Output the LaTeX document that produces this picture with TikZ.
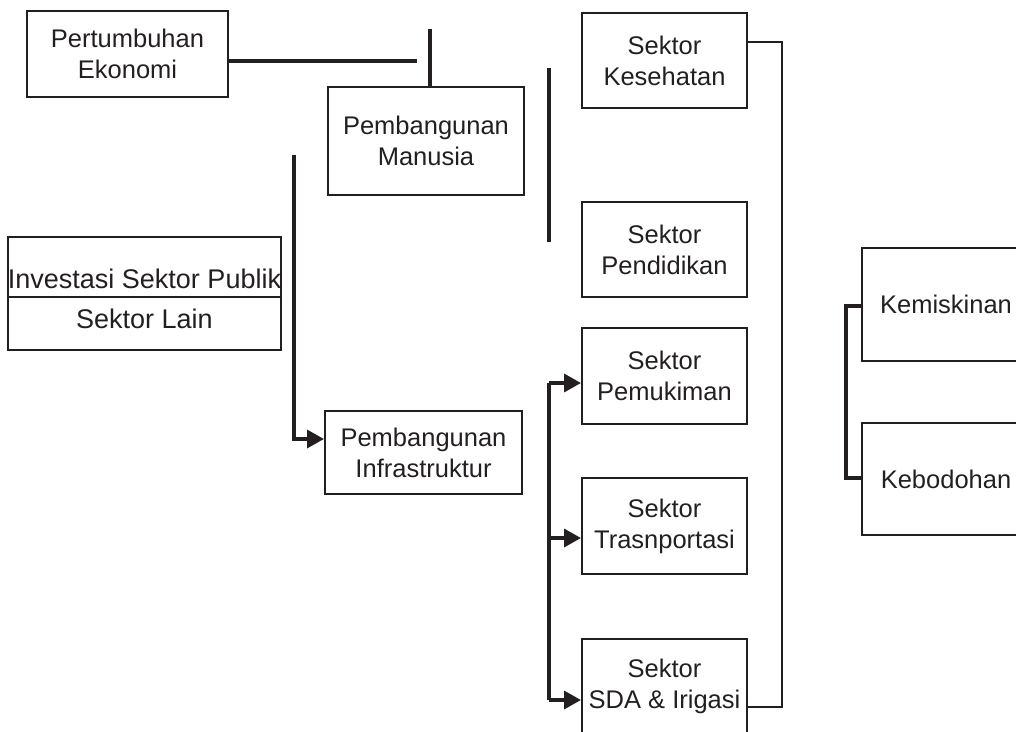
\documentclass[tikz,border=0pt]{standalone}
\usepackage{fontspec}
\setmainfont{Liberation Sans}
\usetikzlibrary{arrows.meta}
\definecolor{ink}{HTML}{231F20}
\begin{document}
\begin{tikzpicture}[x=1pt,y=-1pt,
  box/.style={draw=ink,line width=2pt,text=ink,align=center,inner sep=0pt,
    font=\fontsize{25.5}{31}\selectfont},
  txt/.style={text=ink,align=center,inner sep=0pt,font=\fontsize{27}{40}\selectfont},
  sbox/.style={box,minimum width=165pt,minimum height=95pt},
  conn/.style={draw=ink,line width=3.4pt},
  fat/.style={draw=ink,line width=4pt},
  link/.style={draw=ink,line width=2pt},
  arr/.style={conn,-{Triangle[length=17pt,width=18pt]}}]
\useasboundingbox (0,0) rectangle (1016,731);
\clip (0,0) rectangle (1016,731);

% boxes
\node[box,minimum width=201pt,minimum height=86pt] (pe) at (127.5,54) {Pertumbuhan\\Ekonomi};
\node[box,minimum width=196pt,minimum height=108pt] (pm) at (426,141) {Pembangunan\\Manusia};
\node[box,minimum width=197pt,minimum height=83pt] (pi) at (423.5,452.5) {Pembangunan\\Infrastruktur};
\node[box,minimum width=273pt,minimum height=113pt] (inv) at (144.5,293.5) {};
\node[txt] (invt) at (144.5,298.5) {Investasi Sektor Publik\\Sektor Lain};
\draw[link] (inv.west |- 0,297) -- (inv.east |- 0,297);

\node[sbox] (kes) at (664.5,60.5) {Sektor\\Kesehatan};
\node[sbox] (pen) at (664.5,249.5) {Sektor\\Pendidikan};
\node[sbox,minimum height=96pt] (pmk) at (664.5,376) {Sektor\\Pemukiman};
\node[sbox,minimum height=96pt] (trs) at (664.5,526) {Sektor\\Trasnportasi};
\node[sbox] (sda) at (664.5,686.5) {Sektor\\SDA \& Irigasi};

\node[box,minimum width=168pt,minimum height=113pt] (kem) at (946,304.5) {Kemiskinan};
\node[box,minimum width=168pt,minimum height=112pt] (keb) at (946,479) {Kebodohan};

% connectors
\coordinate (pe1) at (417,61);
\draw[conn] (pe.east |- pe1) -- (pe1);
\coordinate (pmt) at (430,29);
\draw[fat] (pmt) -- (pmt |- pm.north);

\coordinate (lt) at (294,155);
\draw[arr] (lt) |- ([yshift=13.5pt]pi.west);

\coordinate (mt) at (549,68);
\coordinate (mb) at (549,242);
\draw[fat] (mt) -- (mb);

\coordinate (b1) at (549,383);
\coordinate (b3) at (549,700);
\draw[conn] (b1) -- (b3);
\draw[arr] (b1) -- (b1 -| pmk.west);
\draw[arr] (b1 |- 0,538) -- ([yshift=-12pt]trs.west);
\draw[arr] (b3) -- (b3 -| sda.west);

\coordinate (rt) at (782,42);
\coordinate (rb) at (782,707);
\draw[link] ([yshift=18.5pt]kes.east) -- (rt) -- (rb) -- (rb -| sda.east);

\coordinate (k1) at (846,306);
\coordinate (k2) at (846,478);
\draw[conn] (kem.west |- k1) -- (k1) -- (k2) -- (keb.west |- k2);
\end{tikzpicture}
\end{document}
